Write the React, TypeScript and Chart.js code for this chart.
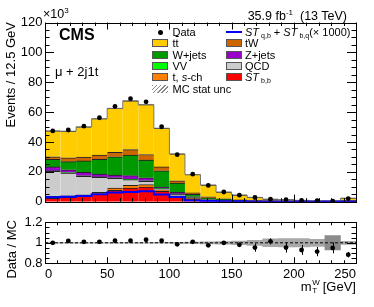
import React, { useEffect, useRef } from 'react';
import { Chart, registerables } from 'chart.js';

Chart.register(...registerables);

const FONT = '"Liberation Sans", Arial, Helvetica, sans-serif';

// m_T^W bin centres (GeV), 12.5 GeV bins
const binCenters = [6.25, 18.75, 31.25, 43.75, 56.25, 68.75, 81.25, 93.75, 106.25, 118.75,
  131.25, 143.75, 156.25, 168.75, 181.25, 193.75, 206.25, 218.75, 231.25, 243.75];
const binHalfWidth = 6.25;

// stacked MC components (x10^3 events), bottom to top
const stbb = [2.2, 2.9, 3.6, 5.0, 7.6, 9.2, 9.8, 7.0, 3.3, 1.9, 0.9, 0.5, 0.3, 0.2, 0.15, 0.1, 0.08, 0.06, 0.05, 0.2];
const tsch = [1.4, 1.1, 1.0, 1.3, 1.6, 1.7, 1.6, 1.0, 0.7, 0.4, 0.2, 0.1, 0.05, 0.05, 0.05, 0.03, 0.02, 0.01, 0.01, 0.05];
const qcd = [16.7, 15.2, 12.4, 10.0, 6.5, 3.9, 2.3, 0.7, 1.0, 0.4, 0.2, 0.1, 0.05, 0.05, 0.02, 0.02, 0.01, 0.01, 0.01, 0.05];
const vv = [0.3, 0.3, 0.3, 0.3, 0.3, 0.3, 0.3, 0.2, 0.2, 0.1, 0.05, 0.03, 0.02, 0.02, 0.01, 0.01, 0.01, 0.01, 0.01, 0.02];
const zjets = [2.7, 1.9, 2.3, 1.9, 1.9, 2.4, 2.0, 0.9, 1.1, 0.5, 0.25, 0.17, 0.08, 0.03, 0.02, 0.01, 0.0, 0.0, 0.0, 0.03];
const wjets = [5.1, 5.4, 7.7, 9.9, 12.2, 13.7, 11.9, 10.9, 6.2, 1.7, 1.0, 0.7, 0.4, 0.25, 0.15, 0.11, 0.08, 0.06, 0.04, 0.25];
const tw = [1.7, 2.6, 2.6, 2.8, 3.0, 3.7, 3.7, 2.6, 1.5, 0.9, 0.7, 0.4, 0.3, 0.2, 0.15, 0.12, 0.1, 0.07, 0.06, 0.2];
const ttbar = [17.3, 17.8, 20.2, 24.4, 29.4, 32.7, 33.4, 25.9, 18.0, 12.3, 7.9, 4.5, 3.3, 2.1, 1.15, 0.95, 0.6, 0.48, 0.32, 1.55];

// ST_q,b + ST_b,q (x1000) line
const stSignal = [2.9, 3.3, 3.9, 5.0, 6.1, 6.5, 7.0, 4.8, 3.1, 0.8, 0.5, 0.3, 0.25, 0.2, 0.15, 0.12, 0.1, 0.0, 0.1, 0.1];

// data (x10^3 events)
const dataVals = [47.4, 48.0, 50.6, 56.2, 63.8, 69.0, 66.9, 50.2, 31.5, 18.4, 10.9, 6.5, 4.4, 2.8, 1.7, 1.3, 0.85, 0.65, 0.45, 2.1];

// ratio panel
const ratioVals = [1.0, 1.018, 1.01, 1.01, 1.02, 1.02, 1.03, 1.02, 0.985, 1.01, 0.975, 1.0, 0.98, 0.953, 1.014, 0.953, 0.93, 0.914, 0.95, 0.884];
const ratioErr = [0.005, 0.005, 0.005, 0.005, 0.005, 0.005, 0.005, 0.005, 0.006, 0.008, 0.01, 0.013, 0.02, 0.04, 0.03, 0.048, 0.048, 0.045, 0.053, 0.027];
const mcStatUnc = [0.003, 0.003, 0.003, 0.003, 0.003, 0.003, 0.003, 0.004, 0.005, 0.007, 0.01, 0.013, 0.018, 0.025, 0.038, 0.04, 0.04, 0.035, 0.07, 0.015];

const mainYTicks = [0, 20, 40, 60, 80, 100, 120];
const xTickLabels = [0, 50, 100, 150, 200, 250];
const ratioYTicks = [0.8, 1.0, 1.2];

const layers = [
  { label: 'ST b,b', values: stbb, color: '#ff0000' },
  { label: 't, s-ch', values: tsch, color: '#ff7f00' },
  { label: 'QCD', values: qcd, color: '#cccccc' },
  { label: 'VV', values: vv, color: '#00ff00' },
  { label: 'Z+jets', values: zjets, color: '#9900cc' },
  { label: 'W+jets', values: wjets, color: '#009900' },
  { label: 'tW', values: tw, color: '#cc6600' },
  { label: 'tt', values: ttbar, color: '#ffcc00' },
];

const frameTicks = {
  id: 'frameTicks',
  afterDraw(chart: any, _args: any, opts: any) {
    const { ctx, chartArea: a, scales } = chart;
    const xs = scales.x, ys = scales.y;
    ctx.save();
    ctx.strokeStyle = '#000';
    ctx.lineWidth = 1;
    const ln = (x1: number, y1: number, x2: number, y2: number) => {
      ctx.beginPath(); ctx.moveTo(x1, y1); ctx.lineTo(x2, y2); ctx.stroke();
    };
    const isMajor = (v: number, step: number) => Math.abs(v / step - Math.round(v / step)) < 1e-6;
    for (let k = 0; ; k++) {
      const v = opts.xMin + k * opts.xMinor;
      if (v > opts.xMax + 1e-9) break;
      const len = isMajor(v, opts.xMajor) ? opts.xLenMajor : opts.xLenMinor;
      const px = Math.round(xs.getPixelForValue(v)) + 0.5;
      ln(px, a.bottom, px, a.bottom - len);
      ln(px, a.top, px, a.top + len);
    }
    for (let k = 0; ; k++) {
      const v = opts.yMin + k * opts.yMinor;
      if (v > opts.yMax + 1e-9) break;
      const len = isMajor(v - opts.yMin, opts.yMajor) ? opts.yLenMajor : opts.yLenMinor;
      const py = Math.round(ys.getPixelForValue(v)) + 0.5;
      ln(a.left, py, a.left + len, py);
      ln(a.right, py, a.right - len, py);
    }
    ctx.strokeRect(Math.round(a.left) + 0.5, Math.round(a.top) + 0.5,
      Math.round(a.right) - Math.round(a.left), Math.round(a.bottom) - Math.round(a.top));
    ctx.restore();
  },
};

const errorBars = {
  id: 'errorBars',
  afterDatasetsDraw(chart: any, _args: any, opts: any) {
    const { ctx, scales } = chart;
    ctx.save();
    ctx.strokeStyle = '#000';
    ctx.lineWidth = 1;
    opts.centers.forEach((c: number, i: number) => {
      const px = Math.round(scales.x.getPixelForValue(c)) + 0.5;
      const y1 = scales.y.getPixelForValue(opts.values[i] - opts.errors[i]);
      const y2 = scales.y.getPixelForValue(opts.values[i] + opts.errors[i]);
      ctx.beginPath(); ctx.moveTo(px, y1); ctx.lineTo(px, y2); ctx.stroke();
    });
    ctx.restore();
  },
};

const tickFont = { family: FONT, size: 13 };

export default function App() {
  const mainRef = useRef<HTMLCanvasElement>(null);
  const ratioRef = useRef<HTMLCanvasElement>(null);

  useEffect(() => {
    const totals = binCenters.map((_, i) => layers.reduce((s, l) => s + l.values[i], 0));
    const edgePoints = (vals: number[]) => {
      const pts = binCenters.map((c, i) => ({ x: c - binHalfWidth, y: vals[i] }));
      pts.push({ x: binCenters[binCenters.length - 1] + binHalfWidth, y: vals[vals.length - 1] });
      return pts;
    };

    const main = new Chart(mainRef.current!, {
      type: 'bar',
      data: {
        datasets: [
          {
            type: 'line', label: 'Data', stack: 'data', order: 0,
            data: binCenters.map((x, i) => ({ x, y: dataVals[i] })),
            showLine: false, pointRadius: 2.4, pointBackgroundColor: '#000', pointBorderColor: '#000', pointBorderWidth: 0,
          } as any,
          {
            type: 'line', label: 'ST signal', stack: 'sig', order: 1,
            data: edgePoints(stSignal), stepped: 'before',
            borderColor: '#0000ff', borderWidth: 2, pointRadius: 0, fill: false,
          } as any,
          {
            type: 'line', label: 'total', stack: 'tot', order: 1,
            data: edgePoints(totals), stepped: 'before',
            borderColor: '#777', borderWidth: 1, pointRadius: 0, fill: false,
          } as any,
          ...layers.map((l) => ({
            type: 'bar', label: l.label, stack: 'mc', order: 2,
            data: binCenters.map((x, i) => ({ x, y: l.values[i] })),
            backgroundColor: l.color,
            borderColor: '#222',
            borderWidth: { top: 1, left: 0, right: 0, bottom: 0 },
            borderSkipped: false,
            barPercentage: 1, categoryPercentage: 1,
          } as any)),
        ],
      },
      options: {
        animation: false,
        responsive: false,
        devicePixelRatio: 1,
        layout: { padding: { top: 22.5, right: 18, bottom: 5.3, left: 0 } },
        plugins: {
          legend: { display: false }, tooltip: { enabled: false },
          frameTicks: {
            xMin: 0, xMax: 250, xMajor: 50, xMinor: 10, xLenMajor: 7, xLenMinor: 3.5,
            yMin: 0, yMax: 120, yMajor: 20, yMinor: 5, yLenMajor: 9, yLenMinor: 4.5,
          },
        } as any,
        scales: {
          x: { type: 'linear', min: 0, max: 250, offset: false, display: false, grid: { offset: false } as any },
          y: {
            type: 'linear', min: mainYTicks[0], max: mainYTicks[mainYTicks.length - 1], stacked: true,
            ticks: { font: tickFont, color: '#000', padding: 2.5, stepSize: mainYTicks[1] - mainYTicks[0], autoSkip: false },
            grid: { display: false, drawTicks: false }, border: { display: false },
            afterFit: (s: any) => { s.width = 45; },
          },
        },
      },
      plugins: [frameTicks],
    });

    const ratio = new Chart(ratioRef.current!, {
      type: 'bar',
      data: {
        datasets: [
          {
            type: 'line', label: 'ratio', order: 0,
            data: binCenters.map((x, i) => ({ x, y: ratioVals[i] })),
            showLine: false, pointRadius: 2.4, pointBackgroundColor: '#000', pointBorderColor: '#000', pointBorderWidth: 0,
          } as any,
          {
            type: 'line', label: 'unity', order: 1,
            data: [{ x: 0, y: 1 }, { x: 250, y: 1 }],
            borderColor: '#000', borderWidth: 1, borderDash: [3, 2], pointRadius: 0,
          } as any,
          {
            type: 'bar', label: 'MC stat', order: 2,
            data: binCenters.map((x, i) => ({ x, y: [1 - mcStatUnc[i], 1 + mcStatUnc[i]] })),
            backgroundColor: binCenters.map((_, i) => (mcStatUnc[i] > 0.05 ? '#8c8c8c' : '#a8a8a8')),
            borderWidth: 0, barPercentage: 1, categoryPercentage: 1,
          } as any,
        ],
      },
      options: {
        animation: false,
        responsive: false,
        devicePixelRatio: 1,
        layout: { padding: { top: 7, right: 18, bottom: 0, left: 0 } },
        plugins: {
          legend: { display: false }, tooltip: { enabled: false },
          frameTicks: {
            xMin: 0, xMax: 250, xMajor: 50, xMinor: 10, xLenMajor: 6, xLenMinor: 3,
            yMin: 0.8, yMax: 1.2, yMajor: 0.2, yMinor: 0.05, yLenMajor: 9, yLenMinor: 4.5,
          },
          errorBars: { centers: binCenters, values: ratioVals, errors: ratioErr },
        } as any,
        scales: {
          x: {
            type: 'linear', min: 0, max: 250, offset: false,
            afterBuildTicks: (s: any) => { s.ticks = xTickLabels.map((v) => ({ value: v })); },
            ticks: { font: tickFont, color: '#000', padding: 3, maxRotation: 0, autoSkip: false, align: 'inner', callback: (v: any) => String(v) } as any,
            grid: { display: false, drawTicks: false, offset: false } as any, border: { display: false },
            afterFit: (s: any) => { s.height = 43.7; },
          },
          y: {
            type: 'linear', min: 0.8, max: 1.2,
            afterBuildTicks: (s: any) => { s.ticks = ratioYTicks.map((v) => ({ value: v })); },
            ticks: { font: tickFont, color: '#000', padding: 2.5, autoSkip: false, callback: (v: any) => (Math.abs(v - 1) < 1e-9 ? '1' : Number(v).toFixed(1)) },
            grid: { display: false, drawTicks: false }, border: { display: false },
            afterFit: (s: any) => { s.width = 45; },
          },
        },
      },
      plugins: [frameTicks, errorBars],
    });

    return () => { main.destroy(); ratio.destroy(); };
  }, []);

  const legRow = (i: number) => 32 + 11.3 * i;
  const box = (color: string, x: number, i: number, extra: any = {}) => (
    <div style={{ position: 'absolute', left: x, top: legRow(i) - 4, width: 14, height: 6, background: color, border: '1px solid #555', ...extra }} />
  );
  const txt = (content: any, x: number, i: number) => (
    <div style={{ position: 'absolute', left: x, top: legRow(i) - 7, fontSize: 11, lineHeight: '14px', whiteSpace: 'nowrap', color: '#000' }}>{content}</div>
  );
  const sub = (s: string) => <span style={{ fontSize: 7, verticalAlign: -2, marginLeft: 2 }}>{s}</span>;
  const c1b = 152, c1t = 172.5, c2b = 226, c2t = 245;

  return (
    <div style={{ position: 'absolute', left: 0, top: 0, width: 374, height: 307, overflow: 'hidden', background: '#fff', fontFamily: FONT, color: '#000' }}>
      <canvas ref={mainRef} width={374} height={212} style={{ position: 'absolute', left: 0, top: 0 }} />
      <canvas ref={ratioRef} width={374} height={95} style={{ position: 'absolute', left: 0, top: 212 }} />

      <div style={{ position: 'absolute', left: 43, top: 3, fontSize: 12.5, lineHeight: '16px' }}>×10<sup style={{ fontSize: 8, verticalAlign: 5 }}>3</sup></div>
      <div style={{ position: 'absolute', right: 27, top: 5, fontSize: 12.5, lineHeight: '16px', whiteSpace: 'nowrap' }}>
        35.9 fb<sup style={{ fontSize: 8, verticalAlign: 5 }}>-1</sup>&nbsp; (13 TeV)
      </div>
      <div style={{ position: 'absolute', left: 59, top: 26, fontSize: 16, fontWeight: 'bold', lineHeight: '18px' }}>CMS</div>
      <div style={{ position: 'absolute', left: 55, top: 64, fontSize: 13, lineHeight: '16px', whiteSpace: 'nowrap' }}>μ + 2j1t</div>

      {/* y titles */}
      <div style={{ position: 'absolute', left: 3, top: 172, width: 150, textAlign: 'right', fontSize: 13, lineHeight: '15px', transformOrigin: '0 0', transform: 'rotate(-90deg)', whiteSpace: 'nowrap' }}>Events / 12.5 GeV</div>
      <div style={{ position: 'absolute', left: 4, top: 280, width: 60, textAlign: 'right', fontSize: 13, lineHeight: '15px', transformOrigin: '0 0', transform: 'rotate(-90deg)', whiteSpace: 'nowrap' }}>Data / MC</div>

      {/* x title */}
      <div style={{ position: 'absolute', right: 18, top: 279, fontSize: 13, lineHeight: '16px', whiteSpace: 'nowrap', display: 'flex', alignItems: 'center' }}>
        <span>m</span>
        <span style={{ display: 'inline-flex', flexDirection: 'column', fontSize: 8, lineHeight: '8px', marginLeft: 0.5, marginRight: 3 }}>
          <span>W</span><span>T</span>
        </span>
        <span>[GeV]</span>
      </div>

      {/* legend column 1 */}
      <div style={{ position: 'absolute', left: c1b + 6, top: legRow(0) - 2.5, width: 5, height: 5, borderRadius: '50%', background: '#000' }} />
      {txt('Data', c1t, 0)}
      {box('#ffcc00', c1b, 1)}
      {txt(<span>t<span style={{ textDecoration: 'overline' }}>t</span></span>, c1t, 1)}
      {box('#009900', c1b, 2)}
      {txt('W+jets', c1t, 2)}
      {box('#00ff00', c1b, 3)}
      {txt('VV', c1t, 3)}
      {box('#ff7f00', c1b, 4)}
      {txt(<span>t, <i>s</i>-ch</span>, c1t, 4)}
      {box('transparent', c1b, 5, { border: 'none', width: 16, height: 8, background: 'repeating-linear-gradient(135deg, #888 0px, #888 1px, #fff 1px, #fff 3px)' })}
      {txt('MC stat unc', c1t, 5)}

      {/* legend column 2 */}
      <div style={{ position: 'absolute', left: c2b, top: legRow(0) - 1, width: 16, height: 2, background: '#0000ff' }} />
      {txt(<span><i>ST</i>{sub('q,b')} + <i>ST</i>{sub('b,q')}(× 1000)</span>, c2t, 0)}
      {box('#cc6600', c2b, 1)}
      {txt('tW', c2t, 1)}
      {box('#9900cc', c2b, 2)}
      {txt('Z+jets', c2t, 2)}
      {box('#cccccc', c2b, 3)}
      {txt('QCD', c2t, 3)}
      {box('#ff0000', c2b, 4)}
      {txt(<span><i>ST</i>{sub('b,b')}</span>, c2t, 4)}
    </div>
  );
}
